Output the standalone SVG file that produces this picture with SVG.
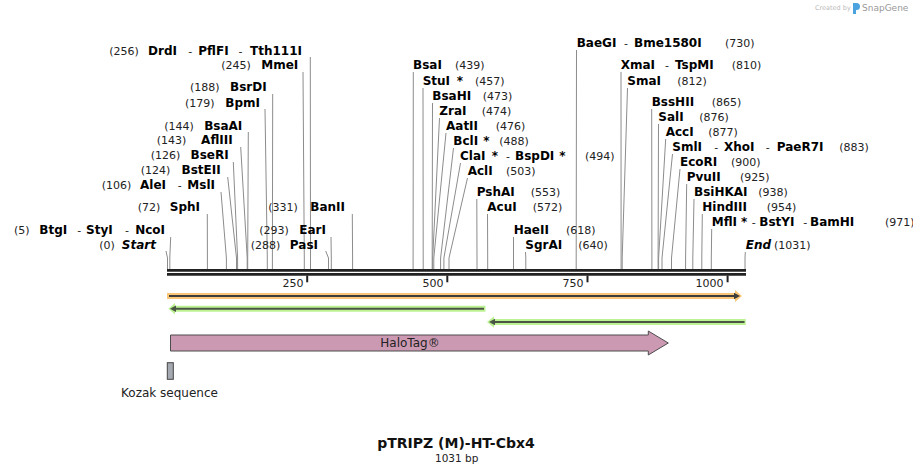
<svg xmlns="http://www.w3.org/2000/svg" width="913" height="474" viewBox="0 0 913 474">
<style>
.n{font-family:"DejaVu Sans",Verdana,sans-serif;font-size:11px;fill:#222}
.b{font-family:"DejaVu Sans",Verdana,sans-serif;font-size:12px;font-weight:bold;fill:#000}
.bi{font-family:"DejaVu Sans",Verdana,sans-serif;font-size:12px;font-weight:bold;font-style:italic;fill:#000}
.e{text-anchor:end}
.ld{fill:none;stroke:#8c8c8c;stroke-width:1}
.tk{stroke:#222;stroke-width:2}
.gb{fill:#bdf294}
.gl{stroke:#4b5543;stroke-width:2;fill:none}
.gh{fill:#4b5543}
</style>
<rect width="913" height="474" fill="#fff"/>
<g id="watermark">
<text x="815" y="10" style="font-family:'DejaVu Sans',sans-serif;font-size:6.5px;fill:#bbb">Created by</text>
<path d="M853,3 h3.5 a3.5,3.5 0 0 1 0,7 h-0.5 v4 h-3 z" fill="#4aa3df"/>
<text x="862" y="11" style="font-family:'DejaVu Sans',sans-serif;font-size:9px;fill:#999">SnapGene</text>
</g>
<g id="connectors">
<polyline class="ld" points="310.3,57 310.5,258 310.5,269"/>
<polyline class="ld" points="303,72 304.3,258 304.3,269"/>
<polyline class="ld" points="272.7,94 272.4,258 272.4,269"/>
<polyline class="ld" points="265,109 267.3,258 267.3,269"/>
<polyline class="ld" points="248.3,132 247.7,258 247.7,269"/>
<polyline class="ld" points="240.7,147 247.2,258 247.2,269"/>
<polyline class="ld" points="233.3,162 237.6,258 237.6,269"/>
<polyline class="ld" points="227.7,177 236.5,258 236.5,269"/>
<polyline class="ld" points="221,192 226.4,258 226.4,269"/>
<polyline class="ld" points="207.3,214 207.4,258 207.4,269"/>
<polyline class="ld" points="170.7,237 169.8,258 169.8,269"/>
<polyline class="ld" points="166,251 167.5,258 167.5,269"/>
<polyline class="ld" points="352.3,214 352.6,258 352.6,269"/>
<polyline class="ld" points="331,237 331.3,258 331.3,269"/>
<polyline class="ld" points="325.7,251 328.5,258 328.5,269"/>
<polyline class="ld" points="413.3,72 413.1,258 413.1,269"/>
<polyline class="ld" points="423,88 423.2,258 423.2,269"/>
<polyline class="ld" points="432.5,103 432.2,258 432.2,269"/>
<polyline class="ld" points="439.5,118 432.7,258 432.7,269"/>
<polyline class="ld" points="446,133 433.8,258 433.8,269"/>
<polyline class="ld" points="453.5,148 440.6,258 440.6,269"/>
<polyline class="ld" points="460.5,163 443.9,258 443.9,269"/>
<polyline class="ld" points="467.5,178 449,258 449,269"/>
<polyline class="ld" points="476.8,199 477,258 477,269"/>
<polyline class="ld" points="487.5,214 487.7,258 487.7,269"/>
<polyline class="ld" points="513.5,237 513.5,258 513.5,269"/>
<polyline class="ld" points="525.5,252 525.8,258 525.8,269"/>
<polyline class="ld" points="576.5,50 576.2,258 576.2,269"/>
<polyline class="ld" points="621,72 621.1,258 621.1,269"/>
<polyline class="ld" points="627.5,88 622.2,258 622.2,269"/>
<polyline class="ld" points="651.7,109 651.9,258 651.9,269"/>
<polyline class="ld" points="658.5,124 658.1,258 658.1,269"/>
<polyline class="ld" points="665.7,139 658.6,258 658.6,269"/>
<polyline class="ld" points="672.5,154 662,258 662,269"/>
<polyline class="ld" points="680,169 671.5,258 671.5,269"/>
<polyline class="ld" points="686.7,184 685.6,258 685.6,269"/>
<polyline class="ld" points="694,199 692.8,258 692.8,269"/>
<polyline class="ld" points="702.3,214 701.8,258 701.8,269"/>
<polyline class="ld" points="711.7,229 711.3,258 711.3,269"/>
<polyline class="ld" points="745.3,252 745,258 745,269"/>
</g>
<g id="backbone">
<line x1="167" y1="270.3" x2="746" y2="270.3" stroke="#222" stroke-width="2.7"/>
<line x1="167" y1="274.4" x2="746" y2="274.4" stroke="#222" stroke-width="2.7"/>
<line class="tk" x1="307.2" y1="275.5" x2="307.2" y2="282.3"/>
<line class="tk" x1="447.3" y1="275.5" x2="447.3" y2="282.3"/>
<line class="tk" x1="587.5" y1="275.5" x2="587.5" y2="282.3"/>
<line class="tk" x1="727.6" y1="275.5" x2="727.6" y2="282.3"/>
<text class="n e" x="303.5" y="286.5">250</text>
<text class="n e" x="443.5" y="286.5">500</text>
<text class="n e" x="583.5" y="286.5">750</text>
<text class="n e" x="723.5" y="286.5">1000</text>
</g>
<g id="L1"><text class="n" x="109.3" y="54.5">(256)</text><text class="b" x="148" y="54.5">DrdI</text><text class="n" x="188.3" y="54.5">-</text><text class="b" x="198.3" y="54.5">PflFI</text><text class="n" x="238.5" y="54.5">-</text><text class="b e" x="302" y="54.5">Tth111I</text></g>
<g id="L2"><text class="n" x="221.3" y="69">(245)</text><text class="b e" x="298.3" y="69">MmeI</text></g>
<g id="L3"><text class="n" x="190" y="91.3">(188)</text><text class="b e" x="266.7" y="91.3">BsrDI</text></g>
<g id="L4"><text class="n" x="185" y="106.5">(179)</text><text class="b e" x="260" y="106.5">BpmI</text></g>
<g id="L5"><text class="n" x="164.3" y="129.7">(144)</text><text class="b e" x="242.3" y="129.7">BsaAI</text></g>
<g id="L6"><text class="n" x="156.7" y="144">(143)</text><text class="b e" x="232.7" y="144">AflIII</text></g>
<g id="L7"><text class="n" x="150.7" y="158.5">(126)</text><text class="b e" x="228.7" y="158.5">BseRI</text></g>
<g id="L8"><text class="n" x="140.7" y="174">(124)</text><text class="b e" x="220.7" y="174">BstEII</text></g>
<g id="L9"><text class="n" x="101.7" y="189">(106)</text><text class="b" x="140" y="189">AleI</text><text class="n" x="177.7" y="189">-</text><text class="b e" x="215" y="189">MslI</text></g>
<g id="L10"><text class="n" x="137.7" y="211.3">(72)</text><text class="b e" x="200" y="211.3">SphI</text></g>
<g id="L11"><text class="n" x="14" y="234">(5)</text><text class="b" x="39.3" y="234">BtgI</text><text class="n" x="77.3" y="234">-</text><text class="b" x="86" y="234">StyI</text><text class="n" x="125" y="234">-</text><text class="b e" x="165" y="234">NcoI</text></g>
<g id="L12"><text class="n" x="99.3" y="249">(0)</text><text class="bi e" x="156" y="249">Start</text></g>
<g id="L13"><text class="n" x="268.3" y="211.3">(331)</text><text class="b e" x="345" y="211.3">BanII</text></g>
<g id="L14"><text class="n" x="259.3" y="234">(293)</text><text class="b e" x="326" y="234">EarI</text></g>
<g id="L15"><text class="n" x="250.7" y="249">(288)</text><text class="b e" x="318" y="249">PasI</text></g>
<g id="M1"><text class="b" x="413" y="69">BsaI</text><text class="n" x="455" y="69">(439)</text></g>
<g id="M2"><text class="b" x="422.7" y="85">StuI</text><text class="b" x="456.7" y="85">*</text><text class="n" x="475" y="85">(457)</text></g>
<g id="M3"><text class="b" x="432.3" y="100">BsaHI</text><text class="n" x="482.7" y="100">(473)</text></g>
<g id="M4"><text class="b" x="439.3" y="115">ZraI</text><text class="n" x="481.7" y="115">(474)</text></g>
<g id="M5"><text class="b" x="446" y="130">AatII</text><text class="n" x="495.7" y="130">(476)</text></g>
<g id="M6"><text class="b" x="453.3" y="145">BclI</text><text class="b" x="483.3" y="145">*</text><text class="n" x="499.3" y="145">(488)</text></g>
<g id="M7"><text class="b" x="460" y="160">ClaI</text><text class="b" x="491.7" y="160">*</text><text class="n" x="506" y="160">-</text><text class="b" x="515" y="160">BspDI</text><text class="b" x="559.3" y="160">*</text><text class="n" x="585" y="160">(494)</text></g>
<g id="M8"><text class="b" x="467.7" y="175">AclI</text><text class="n" x="506" y="175">(503)</text></g>
<g id="M9"><text class="b" x="476.7" y="196">PshAI</text><text class="n" x="530.7" y="196">(553)</text></g>
<g id="M10"><text class="b" x="487.3" y="211">AcuI</text><text class="n" x="532.7" y="211">(572)</text></g>
<g id="M11"><text class="b" x="513.7" y="234">HaeII</text><text class="n" x="566" y="234">(618)</text></g>
<g id="M12"><text class="b" x="525.3" y="249">SgrAI</text><text class="n" x="578.3" y="249">(640)</text></g>
<g id="R1"><text class="b" x="576.7" y="47">BaeGI</text><text class="n" x="624" y="47">-</text><text class="b" x="634" y="47">Bme1580I</text><text class="n" x="725" y="47">(730)</text></g>
<g id="R2"><text class="b" x="620.7" y="69">XmaI</text><text class="n" x="665" y="69">-</text><text class="b" x="675" y="69">TspMI</text><text class="n" x="731.7" y="69">(810)</text></g>
<g id="R3"><text class="b" x="627.3" y="85">SmaI</text><text class="n" x="677.3" y="85">(812)</text></g>
<g id="R4"><text class="b" x="651.7" y="106">BssHII</text><text class="n" x="711.7" y="106">(865)</text></g>
<g id="R5"><text class="b" x="658.3" y="121">SalI</text><text class="n" x="699.3" y="121">(876)</text></g>
<g id="R6"><text class="b" x="665.7" y="136">AccI</text><text class="n" x="708.3" y="136">(877)</text></g>
<g id="R7"><text class="b" x="672.3" y="151">SmlI</text><text class="n" x="714.3" y="151">-</text><text class="b" x="724" y="151">XhoI</text><text class="n" x="765.7" y="151">-</text><text class="b" x="776.7" y="151">PaeR7I</text><text class="n" x="839.3" y="151">(883)</text></g>
<g id="R8"><text class="b" x="680" y="166">EcoRI</text><text class="n" x="731" y="166">(900)</text></g>
<g id="R9"><text class="b" x="686.7" y="181">PvuII</text><text class="n" x="740" y="181">(925)</text></g>
<g id="R10"><text class="b" x="694" y="196">BsiHKAI</text><text class="n" x="758.3" y="196">(938)</text></g>
<g id="R11"><text class="b" x="702.3" y="211">HindIII</text><text class="n" x="766.7" y="211">(954)</text></g>
<g id="R12"><text class="b" x="711.7" y="226">MflI</text><text class="b" x="741" y="226">*</text><text class="n" x="751.7" y="226">-</text><text class="b" x="759.3" y="226">BstYI</text><text class="n" x="803.3" y="226">-</text><text class="b" x="810" y="226">BamHI</text><text class="n" x="885" y="226">(971)</text></g>
<g id="R13"><text class="bi" x="745.7" y="249">End</text><text class="n" x="774" y="249">(1031)</text></g>
<g id="feature-orange">
<polygon points="167,293 735,293 735,290 742,296 735,302 735,299 167,299" fill="#f9c677"/>
<line x1="169" y1="296" x2="736" y2="296" stroke="#3c3c3c" stroke-width="2"/>
<polygon points="734,292.8 740,296 734,299.2" fill="#3c3c3c"/>
</g>
<g id="feature-green1">
<polygon class="gb" points="168.3,308.7 175,303 175,305.7 485.5,305.7 485.5,311.7 175,311.7 175,314.4"/>
<line class="gl" x1="172" y1="308.7" x2="484" y2="308.7"/>
<polygon class="gh" points="170,308.7 176,305.5 176,311.9"/>
</g>
<g id="feature-green2">
<polygon class="gb" points="487,322 494,316.3 494,319 745.7,319 745.7,325 494,325 494,327.7"/>
<line class="gl" x1="491" y1="322" x2="744.5" y2="322"/>
<polygon class="gh" points="489,322 495,318.8 495,325.2"/>
</g>
<g id="feature-halotag">
<polygon points="170.5,335 648.3,335 648.3,331 668.3,343 648.3,355 648.3,351 170.5,351" fill="#cc99b3" stroke="#4d4d4d" stroke-width="1"/>
<text x="410" y="347.3" text-anchor="middle" style="font-family:'DejaVu Sans',sans-serif;font-size:12px;fill:#222">HaloTag®</text>
</g>
<g id="feature-kozak">
<rect x="167.3" y="362.7" width="6" height="16.6" fill="#a5aab2" stroke="#444" stroke-width="1"/>
<text x="169.5" y="397" text-anchor="middle" style="font-family:'DejaVu Sans',sans-serif;font-size:12px;fill:#222">Kozak sequence</text>
</g>
<g id="title">
<text x="456" y="448" text-anchor="middle" style="font-family:'DejaVu Sans',sans-serif;font-size:14px;font-weight:bold;fill:#111">pTRIPZ (M)-HT-Cbx4</text>
<text x="456.7" y="461.5" text-anchor="middle" style="font-family:'DejaVu Sans',sans-serif;font-size:10.5px;fill:#222">1031 bp</text>
</g>
</svg>
